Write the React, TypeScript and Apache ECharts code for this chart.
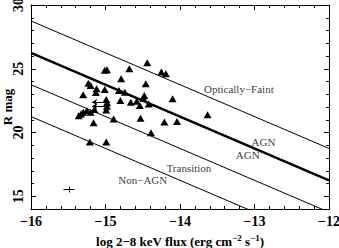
import React, { useEffect, useRef } from "react";
import * as echarts from "echarts";

// Triangles: log 2-8 keV flux vs R mag
const fluxLog = [
  -15.01, -14.98, -14.68, -14.44, -14.25, -14.19, -14.79, -14.46, -15.23, -15.2,
  -15.12, -15.01, -15.3, -15.13, -14.82, -14.74, -14.48, -14.49, -14.1, -14.99,
  -14.98, -14.98, -14.99, -14.8, -14.66, -14.58, -14.54, -14.42, -15.15, -14.89,
  -14.53, -14.21, -14.04, -13.63, -14.39, -15.21, -14.99, -15.36, -15.33, -15.3,
  -15.25, -15.2, -15.16,
];
const rMag = [
  24.88, 24.92, 25.0, 25.47, 24.75, 24.6, 24.22, 23.82, 23.86, 23.69,
  23.43, 23.37, 22.96, 23.14, 23.29, 23.15, 22.9, 22.68, 22.64, 22.59,
  22.33, 22.06, 21.76, 22.51, 22.37, 22.45, 22.12, 22.24, 21.8, 21.06,
  21.11, 20.82, 20.86, 21.4, 19.98, 19.25, 19.25, 21.31, 21.45, 21.59,
  21.73, 21.59, 20.76,
];

// Upper-limit arrows (pointing to lower flux)
const arrowFromX = [-14.99, -14.99];
const arrowToX = [-15.18, -15.18];
const arrowY = [22.38, 22.06];

// Typical error bar
const errCenter = [-15.49, 15.52];
const errHalf = [0.074, 0.23];

// Constant X/O lines: R at log f = -16 and at log f = -12
const lineStartR = [28.75, 26.25, 23.75, 21.25];
const lineEndR = [18.75, 16.25, 13.75, 11.25];
const lineWidths = [1, 2.5, 1, 1];

// Region labels
const labelNames = ["Optically\u2212Faint", "AGN", "AGN", "Transition", "Non\u2212AGN"];
const labelX = [-13.21, -12.88, -13.09, -13.88, -14.5];
const labelY = [23.45, 19.24, 18.27, 17.2, 16.24];

const yMajor = [15, 20, 25, 30];

const FONT = "Liberation Serif";

export default function App() {
  const ref = useRef<HTMLDivElement>(null);
  useEffect(() => {
    if (!ref.current) return;
    const chart = echarts.init(ref.current, undefined, { renderer: "svg" });
    const minus = (v: number) => String(v).replace("-", "\u2212");
    const black = "#000";
    const baseX = {
      type: "value",
      min: -16,
      max: -12,
      interval: 1,
      splitLine: { show: false },
      axisLine: { show: true, lineStyle: { color: black, width: 1 } },
      axisTick: { show: true, inside: true, length: 5, lineStyle: { color: black, width: 1 } },
      minorTick: { show: true, splitNumber: 5, length: 3, lineStyle: { color: black, width: 1 } },
    };
    const baseY = {
      type: "value",
      min: 14,
      max: 30,
      interval: 1,
      splitLine: { show: false },
      axisLine: { show: true, lineStyle: { color: black, width: 1 } },
      axisTick: { show: true, inside: true, length: 3, lineStyle: { color: black, width: 1 } },
    };
    const series: any[] = [];
    lineStartR.forEach((r0, i) => {
      series.push({
        type: "line",
        data: [
          [-16, r0],
          [-12, lineEndR[i]],
        ],
        showSymbol: false,
        symbol: "none",
        clip: true,
        silent: true,
        lineStyle: { color: black, width: lineWidths[i] },
      });
    });
    series.push({
      type: "scatter",
      data: fluxLog.map((x, i) => [x, rMag[i]]),
      symbol: "triangle",
      symbolSize: [8, 7],
      itemStyle: { color: black, opacity: 1 },
      silent: true,
    });
    series.push({
      type: "lines",
      coordinateSystem: "cartesian2d",
      data: arrowY.map((y, i) => ({
        coords: [
          [arrowFromX[i], y],
          [arrowToX[i], y],
        ],
      })),
      symbol: ["none", "arrow"],
      symbolSize: 5,
      lineStyle: { color: black, width: 1, opacity: 1 },
      silent: true,
    });
    series.push({
      type: "lines",
      coordinateSystem: "cartesian2d",
      data: [
        {
          coords: [
            [errCenter[0] - errHalf[0], errCenter[1]],
            [errCenter[0] + errHalf[0], errCenter[1]],
          ],
        },
        {
          coords: [
            [errCenter[0], errCenter[1] - errHalf[1]],
            [errCenter[0], errCenter[1] + errHalf[1]],
          ],
        },
      ],
      symbol: ["none", "none"],
      lineStyle: { color: black, width: 1, opacity: 1 },
      silent: true,
    });
    series.push({
      type: "scatter",
      data: labelNames.map((n, i) => ({ name: n, value: [labelX[i], labelY[i]] })),
      symbolSize: 0,
      silent: true,
      label: {
        show: true,
        position: "inside",
        formatter: "{b}",
        color: black,
        fontFamily: FONT,
        fontSize: 11,
      },
    });

    chart.setOption({
      animation: false,
      backgroundColor: "#fff",
      grid: {
        left: 31,
        right: 10,
        top: 5,
        bottom: 39,
        containLabel: false,
        outerBoundsMode: "none",
      },
      xAxis: [
        {
          ...baseX,
          position: "bottom",
          name: "log 2\u22128 keV flux (erg cm{sup|\u22122} s{sup|\u22121})",
          nameLocation: "middle",
          nameGap: 24,
          nameMoveOverlap: false,
          nameTextStyle: {
            color: black,
            fontFamily: FONT,
            fontWeight: "bold",
            fontSize: 13,
            rich: {
              sup: {
                fontFamily: FONT,
                fontWeight: "bold",
                fontSize: 9,
                padding: [0, 0, 7, 0],
                color: black,
              },
            },
          },
          axisLabel: {
            show: true,
            margin: 5,
            color: black,
            fontFamily: FONT,
            fontWeight: "bold",
            fontSize: 14,
            formatter: minus,
          },
        },
        {
          ...baseX,
          position: "top",
          axisLabel: { show: false },
        },
      ],
      yAxis: [
        {
          ...baseY,
          position: "left",
          name: "R mag",
          nameLocation: "middle",
          nameGap: 17,
          nameMoveOverlap: false,
          nameTextStyle: {
            color: black,
            fontFamily: FONT,
            fontWeight: "bold",
            fontSize: 13,
          },
          axisLabel: {
            show: true,
            rotate: 90,
            margin: 6,
            align: "center",
            verticalAlign: "bottom",
            color: black,
            fontFamily: FONT,
            fontWeight: "bold",
            fontSize: 14,
            customValues: yMajor,
            formatter: (v: number) => (v % 5 === 0 ? String(v) : ""),
          },
        },
        {
          ...baseY,
          position: "left",
          axisLine: { show: false },
          axisLabel: { show: false },
          axisTick: {
            show: true,
            inside: true,
            length: 5,
            customValues: yMajor,
            lineStyle: { color: black, width: 1 },
          },
        },
        {
          ...baseY,
          position: "right",
          axisLabel: { show: false },
        },
        {
          ...baseY,
          position: "right",
          axisLine: { show: false },
          axisLabel: { show: false },
          axisTick: {
            show: true,
            inside: true,
            length: 5,
            customValues: yMajor,
            lineStyle: { color: black, width: 1 },
          },
        },
      ],
      series,
    });
    return () => chart.dispose();
  }, []);
  return (
    <div
      ref={ref}
      style={{ position: "fixed", left: 0, top: 0, width: 339, height: 248, background: "#fff" }}
    />
  );
}
